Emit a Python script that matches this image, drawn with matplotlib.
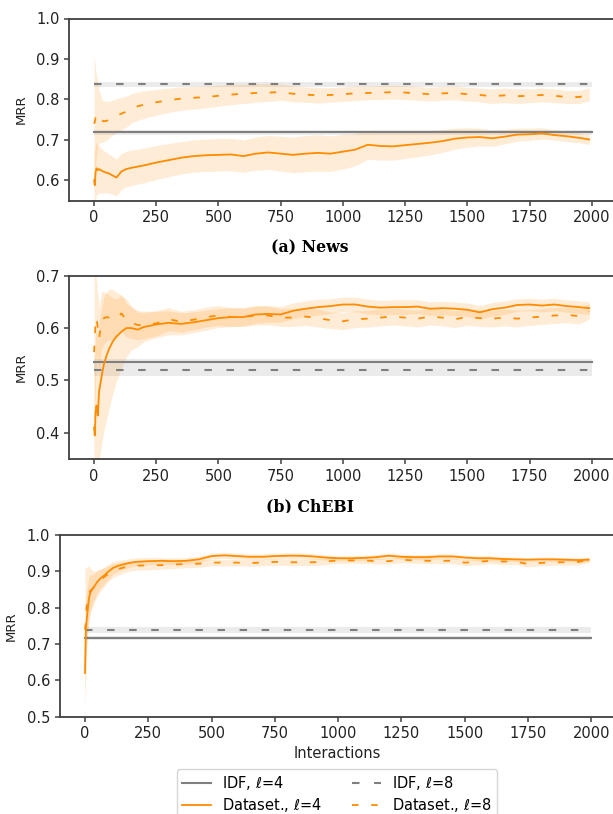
import matplotlib

matplotlib.use("Agg")
import matplotlib.pyplot as plt
import numpy as np
from matplotlib.patches import Rectangle
from matplotlib.ticker import MultipleLocator

# sample positions (interactions) shared by all dataset curves
STEPS = [0, 3, 6, 10, 15, 20, 30, 40, 50, 60, 75, 90, 110, 130, 150, 175, 200,
         250, 300, 350, 400, 450, 500, 550, 600, 650, 700, 750, 800, 850, 900,
         950, 1000, 1050, 1100, 1150, 1200, 1250, 1300, 1350, 1400, 1450, 1500,
         1550, 1600, 1650, 1700, 1750, 1800, 1850, 1900, 1950, 1990]
IDF_SPAN = [0, 2000]

# (a) News
NEWS_L4 = [0.600, 0.588, 0.620, 0.630, 0.625, 0.628, 0.624, 0.621, 0.619, 0.617,
           0.612, 0.607, 0.622, 0.628, 0.631, 0.634, 0.637, 0.644, 0.650, 0.656,
           0.660, 0.662, 0.663, 0.664, 0.660, 0.666, 0.669, 0.666, 0.663, 0.666,
           0.668, 0.666, 0.671, 0.676, 0.688, 0.685, 0.684, 0.687, 0.690, 0.693,
           0.697, 0.703, 0.706, 0.707, 0.704, 0.708, 0.713, 0.714, 0.716, 0.712,
           0.709, 0.705, 0.701]
NEWS_L4_SD = [0.080, 0.080, 0.070, 0.065, 0.060, 0.058, 0.055, 0.052, 0.050, 0.048,
              0.047, 0.046, 0.045, 0.044, 0.044, 0.043, 0.043, 0.042, 0.041, 0.040,
              0.040, 0.040, 0.040, 0.040, 0.040, 0.041, 0.042, 0.043, 0.044, 0.045,
              0.045, 0.044, 0.043, 0.040, 0.036, 0.035, 0.034, 0.033, 0.032, 0.030,
              0.028, 0.026, 0.024, 0.022, 0.020, 0.018, 0.016, 0.015, 0.014, 0.013,
              0.013, 0.012, 0.012]
NEWS_L8 = [0.740, 0.745, 0.755, 0.760, 0.765, 0.758, 0.748, 0.746, 0.747, 0.750,
           0.755, 0.760, 0.765, 0.770, 0.778, 0.783, 0.787, 0.793, 0.798, 0.802,
           0.804, 0.806, 0.809, 0.812, 0.814, 0.816, 0.817, 0.818, 0.814, 0.812,
           0.810, 0.811, 0.813, 0.815, 0.816, 0.817, 0.818, 0.817, 0.815, 0.813,
           0.815, 0.816, 0.813, 0.811, 0.808, 0.810, 0.808, 0.809, 0.811, 0.809,
           0.806, 0.806, 0.812]
NEWS_L8_SD = [0.170, 0.150, 0.120, 0.100, 0.080, 0.065, 0.055, 0.050, 0.048, 0.045,
              0.043, 0.042, 0.040, 0.038, 0.036, 0.035, 0.034, 0.032, 0.030, 0.029,
              0.028, 0.027, 0.026, 0.025, 0.024, 0.023, 0.022, 0.020, 0.020, 0.019,
              0.019, 0.018, 0.018, 0.018, 0.017, 0.017, 0.017, 0.017, 0.017, 0.017,
              0.017, 0.017, 0.017, 0.017, 0.018, 0.018, 0.018, 0.017, 0.017, 0.017,
              0.016, 0.016, 0.016]
NEWS_IDF = {"l4": (0.719, 0.006), "l8": (0.837, 0.006)}

# (b) ChEBI
CHEBI_L4 = [0.410, 0.395, 0.440, 0.452, 0.433, 0.478, 0.507, 0.532, 0.547, 0.560,
            0.574, 0.584, 0.593, 0.600, 0.600, 0.597, 0.602, 0.607, 0.610, 0.608,
            0.611, 0.615, 0.619, 0.621, 0.621, 0.626, 0.627, 0.626, 0.633, 0.637,
            0.640, 0.642, 0.645, 0.645, 0.641, 0.639, 0.640, 0.640, 0.641, 0.637,
            0.638, 0.637, 0.635, 0.630, 0.636, 0.639, 0.644, 0.645, 0.643, 0.645,
            0.642, 0.640, 0.638]
CHEBI_L4_SD = [0.150, 0.150, 0.150, 0.145, 0.140, 0.135, 0.130, 0.128, 0.122, 0.115,
               0.100, 0.085, 0.070, 0.055, 0.042, 0.033, 0.028, 0.025, 0.023, 0.021,
               0.020, 0.019, 0.018, 0.018, 0.017, 0.017, 0.016, 0.015, 0.015, 0.015,
               0.015, 0.014, 0.014, 0.014, 0.014, 0.014, 0.014, 0.014, 0.013, 0.013,
               0.013, 0.013, 0.013, 0.013, 0.013, 0.013, 0.012, 0.012, 0.012, 0.012,
               0.012, 0.012, 0.012]
CHEBI_L8 = [0.554, 0.580, 0.610, 0.620, 0.600, 0.580, 0.615, 0.619, 0.621, 0.620,
            0.617, 0.618, 0.628, 0.615, 0.610, 0.606, 0.606, 0.609, 0.617, 0.612,
            0.616, 0.621, 0.624, 0.621, 0.621, 0.624, 0.624, 0.620, 0.620, 0.622,
            0.619, 0.615, 0.613, 0.617, 0.618, 0.620, 0.622, 0.620, 0.618, 0.622,
            0.620, 0.617, 0.621, 0.619, 0.618, 0.620, 0.618, 0.620, 0.622, 0.624,
            0.625, 0.623, 0.632]
CHEBI_L8_SD = [0.200, 0.150, 0.100, 0.070, 0.065, 0.060, 0.055, 0.050, 0.045, 0.043,
               0.040, 0.038, 0.035, 0.032, 0.030, 0.028, 0.026, 0.024, 0.022, 0.020,
               0.019, 0.019, 0.019, 0.018, 0.018, 0.018, 0.018, 0.017, 0.017, 0.017,
               0.017, 0.016, 0.016, 0.016, 0.016, 0.016, 0.016, 0.016, 0.016, 0.016,
               0.016, 0.016, 0.016, 0.016, 0.016, 0.016, 0.016, 0.015, 0.015, 0.015,
               0.015, 0.015, 0.015]
CHEBI_IDF = {"l4": (0.535, 0.006), "l8": (0.519, 0.011)}

# (c) third dataset
THIRD_L4 = [0.620, 0.730, 0.760, 0.790, 0.822, 0.840, 0.852, 0.862, 0.872, 0.880,
            0.888, 0.898, 0.909, 0.915, 0.919, 0.923, 0.926, 0.928, 0.929, 0.928,
            0.929, 0.933, 0.942, 0.944, 0.942, 0.940, 0.940, 0.942, 0.943, 0.943,
            0.941, 0.938, 0.936, 0.936, 0.937, 0.939, 0.943, 0.940, 0.939, 0.939,
            0.941, 0.941, 0.938, 0.936, 0.936, 0.934, 0.933, 0.932, 0.933, 0.933,
            0.932, 0.931, 0.932]
THIRD_L4_SD = [0.120, 0.100, 0.080, 0.070, 0.060, 0.050, 0.040, 0.035, 0.030, 0.027,
               0.023, 0.020, 0.017, 0.015, 0.013, 0.012, 0.011, 0.010, 0.009, 0.009,
               0.009, 0.009, 0.008, 0.008, 0.008, 0.008, 0.008, 0.008, 0.008, 0.008,
               0.008, 0.007, 0.007, 0.007, 0.007, 0.007, 0.007, 0.007, 0.007, 0.007,
               0.007, 0.007, 0.007, 0.007, 0.007, 0.006, 0.006, 0.006, 0.006, 0.006,
               0.006, 0.006, 0.006]
THIRD_L8 = [0.739, 0.757, 0.800, 0.820, 0.842, 0.846, 0.852, 0.860, 0.868, 0.874,
            0.884, 0.892, 0.902, 0.906, 0.910, 0.914, 0.916, 0.916, 0.917, 0.919,
            0.920, 0.921, 0.924, 0.924, 0.924, 0.923, 0.924, 0.926, 0.925, 0.925,
            0.925, 0.927, 0.930, 0.930, 0.930, 0.928, 0.928, 0.932, 0.930, 0.929,
            0.929, 0.929, 0.924, 0.926, 0.929, 0.927, 0.927, 0.920, 0.923, 0.925,
            0.925, 0.926, 0.932]
THIRD_L8_SD = [0.180, 0.150, 0.110, 0.090, 0.075, 0.065, 0.050, 0.040, 0.035, 0.030,
               0.026, 0.022, 0.019, 0.017, 0.015, 0.014, 0.013, 0.012, 0.011, 0.011,
               0.010, 0.010, 0.009, 0.009, 0.009, 0.009, 0.009, 0.009, 0.009, 0.009,
               0.009, 0.009, 0.008, 0.008, 0.008, 0.008, 0.008, 0.008, 0.008, 0.008,
               0.008, 0.008, 0.008, 0.008, 0.008, 0.008, 0.008, 0.008, 0.008, 0.008,
               0.008, 0.008, 0.008]
THIRD_IDF = {"l4": (0.717, 0.005), "l8": (0.738, 0.009)}

CAPTIONS = ["(a) News", "(b) ChEBI"]
LABELS = {
    "idf4": r"IDF, $\ell$=4",
    "idf8": r"IDF, $\ell$=8",
    "ds4": r"Dataset., $\ell$=4",
    "ds8": r"Dataset., $\ell$=8",
}

W, H = 613, 814
ORANGE = "darkorange"
GREY = "#7f7f7f"
DASH = (0, (3.6, 7.0))

plt.rcParams["font.family"] = "DejaVu Sans"
plt.rcParams["font.size"] = 10.5


def px_axes(fig, left, top, right, bottom):
    return fig.add_axes([left / W, 1 - bottom / H, (right - left) / W, (bottom - top) / H])


def draw_panel(ax, l4, l4_sd, l8, l8_sd, idf, ylim, ylabel_x):
    x = np.array(STEPS)
    handles = {}
    for key, style in (("l4", "-"), ("l8", DASH)):
        mean, sd = idf[key]
        ax.fill_between(IDF_SPAN, mean - sd, mean + sd, color=GREY, alpha=0.15, lw=0)
        (h,) = ax.plot(IDF_SPAN, [mean, mean], color=GREY, lw=1.5, linestyle=style)
        handles["idf" + key[1]] = h
    for key, mean, sd, style in (("4", l4, l4_sd, "-"), ("8", l8, l8_sd, DASH)):
        mean = np.array(mean)
        sd = np.array(sd)
        ax.fill_between(x, mean - sd, mean + sd, color=ORANGE, alpha=0.16, lw=0)
        (h,) = ax.plot(x, mean, color=ORANGE, lw=1.3, linestyle=style)
        handles["ds" + key] = h

    ax.set_xlim(-99.5, 2089.5)
    ax.set_ylim(*ylim)
    ax.xaxis.set_major_locator(MultipleLocator(250))
    ax.yaxis.set_major_locator(MultipleLocator(0.1))
    ax.yaxis.set_major_formatter(matplotlib.ticker.FormatStrFormatter("%.1f"))
    ax.spines["right"].set_visible(False)
    for s in ax.spines.values():
        s.set_color("#404040")
        s.set_linewidth(1.3)
    ax.tick_params(colors="#404040", labelcolor="#222222", width=1.1, labelsize=10.5)
    ax.set_ylabel("MRR", fontsize=9.5, color="#222222")
    ax.yaxis.label.set_verticalalignment("center")
    ax.yaxis.set_label_coords(ylabel_x, 0.5)
    return handles


fig = plt.figure(figsize=(W / 100, H / 100), dpi=100)

ax_a = px_axes(fig, 69.3, 18.5, 614, 200.6)
draw_panel(ax_a, NEWS_L4, NEWS_L4_SD, NEWS_L8, NEWS_L8_SD, NEWS_IDF, (0.55, 1.0), -0.0878)

ax_b = px_axes(fig, 69.3, 275.7, 614, 459)
draw_panel(ax_b, CHEBI_L4, CHEBI_L4_SD, CHEBI_L8, CHEBI_L8_SD, CHEBI_IDF, (0.35, 0.7), -0.0878)

ax_c = px_axes(fig, 59.8, 535, 614, 716.7)
handles = draw_panel(ax_c, THIRD_L4, THIRD_L4_SD, THIRD_L8, THIRD_L8_SD, THIRD_IDF, (0.5, 1.0), -0.0868)
ax_c.set_xlabel("Interactions", fontsize=10.5, color="#222222")
ax_c.xaxis.label.set_verticalalignment("center")
ax_c.xaxis.set_label_coords(0.5, -37.3 / 181.7)

order = ["idf4", "ds4", "idf8", "ds8"]
ax_c.legend([handles[k] for k in order], [LABELS[k] for k in order],
            loc="upper center", bbox_to_anchor=(0.5, -(769.0 - 716.7) / 181.7),
            borderaxespad=0, ncol=2, fontsize=10.5, labelspacing=0.3,
            borderpad=0.35)

for caption, y in zip(CAPTIONS, (247.5, 506.5)):
    fig.text(309.5 / W, 1 - y / H, caption, ha="center", va="center",
             family="DejaVu Serif", weight="bold", size=11.3)

# the next panel covers the bottom of the second caption
fig.patches.append(Rectangle((250 / W, 1 - 530 / H), 120 / W, 17.3 / H,
                             transform=fig.transFigure, color="white", zorder=5))

fig.savefig("out.png", dpi=100)
